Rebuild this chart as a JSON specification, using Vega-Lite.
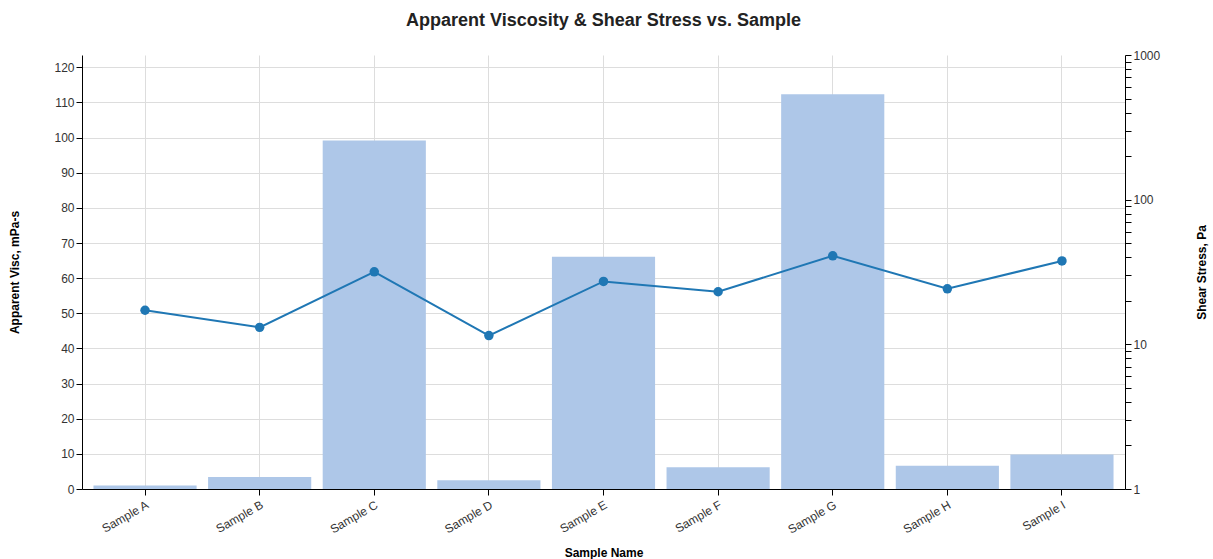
{
  "$schema": "https://vega.github.io/schema/vega-lite/v6.json",
  "autosize": "none",
  "padding": {"left": 82, "top": 55, "right": 88, "bottom": 70},
  "width": 1043,
  "height": 434,
  "title": {"text": "Apparent Viscosity & Shear Stress vs. Sample", "fontSize": 18, "fontWeight": "bold", "font": "Liberation Sans", "color": "#222", "anchor": "middle", "offset": 19},
  "data": {"values": [
    {"sample": "Sample A", "visc": 1.0, "stress": 17.2},
    {"sample": "Sample B", "visc": 3.4, "stress": 13.1},
    {"sample": "Sample C", "visc": 99.2, "stress": 31.7},
    {"sample": "Sample D", "visc": 2.5, "stress": 11.5},
    {"sample": "Sample E", "visc": 66.1, "stress": 27.2},
    {"sample": "Sample F", "visc": 6.2, "stress": 23.1},
    {"sample": "Sample G", "visc": 112.3, "stress": 40.9},
    {"sample": "Sample H", "visc": 6.6, "stress": 24.2},
    {"sample": "Sample I", "visc": 9.8, "stress": 37.7}
  ]},
  "encoding": {
    "x": {"field": "sample", "type": "nominal", "sort": null,
      "scale": {"paddingInner": 0.1, "paddingOuter": 0.1},
      "axis": {"title": "Sample Name", "labelAngle": -30, "bandPosition": 0.5, "grid": true, "titlePadding": 12, "labelPadding": 4}}
  },
  "layer": [
    {
      "mark": {"type": "bar", "color": "#aec7e8"},
      "encoding": {
        "y": {"field": "visc", "type": "quantitative",
          "scale": {"domain": [0, 123.5], "nice": false},
          "axis": {"title": "Apparent Visc, mPa-s", "values": [0,10,20,30,40,50,60,70,80,90,100,110,120], "grid": true, "titlePadding": 32}}
      }
    },
    {
      "mark": {"type": "line", "color": "#1f77b4", "strokeWidth": 2, "point": {"filled": true, "size": 90, "color": "#1f77b4"}},
      "encoding": {
        "y": {"field": "stress", "type": "quantitative",
          "scale": {"type": "log", "domain": [1, 1000], "nice": false},
          "axis": {"title": "Shear Stress, Pa", "orient": "right", "grid": false, "titlePadding": 37, "titleAngle": 270, "titleBaseline": "top",
            "values": [1,2,3,4,5,6,7,8,9,10,20,30,40,50,60,70,80,90,100,200,300,400,500,600,700,800,900,1000],
            "labelExpr": "indexof([1,10,100,1000], datum.value) >= 0 ? format(datum.value, 'd') : ''"}}
      }
    }
  ],
  "resolve": {"scale": {"y": "independent"}},
  "config": {
    "view": {"stroke": null},
    "font": "Liberation Sans",
    "axis": {"labelFont": "Liberation Sans", "labelFontSize": 12, "labelColor": "#333", "titleFont": "Liberation Sans", "titleFontSize": 12, "titleFontWeight": "bold", "titleColor": "#000", "domainColor": "#000", "tickColor": "#000", "gridColor": "#dddddd", "tickSize": 6}
  }
}
